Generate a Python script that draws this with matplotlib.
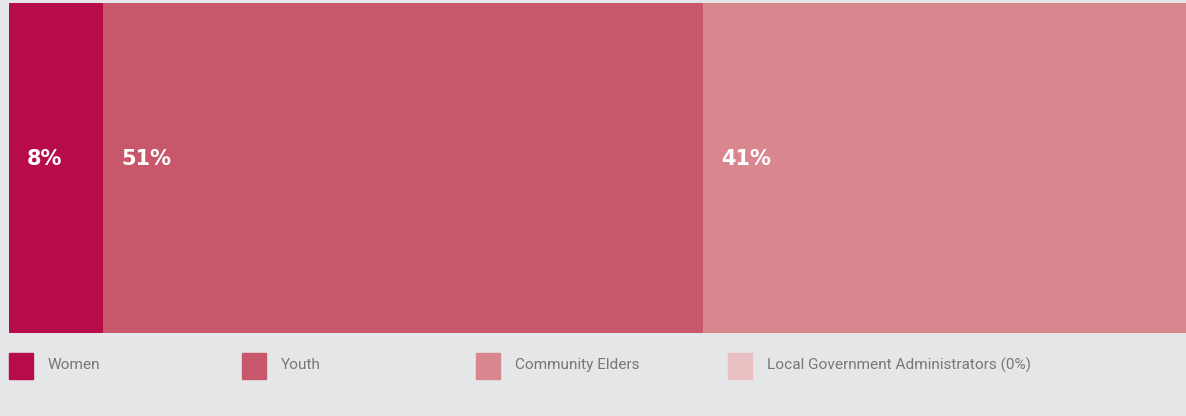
import matplotlib.pyplot as plt
from matplotlib.patches import Rectangle

# stakeholder share, single stacked bar
groups = ["Women", "Youth", "Community Elders", "Local Government Administrators"]
shares = [8, 51, 41, 0]
legend_labels = ["Women", "Youth", "Community Elders", "Local Government Administrators (0%)"]
colors = ["#b80c4a", "#c8576b", "#d9878f", "#ebc0c3"]

bg = "#e5e6e8"
W, H = 1186, 416

fig = plt.figure(figsize=(W / 100, H / 100), dpi=100, facecolor=bg)
ax = fig.add_axes([9 / W, 1 - 333 / H, 1 - 9 / W, 330 / H])
ax.set_facecolor(bg)

left = 0
for name, val, col in zip(groups, shares, colors):
    if val > 0:
        ax.barh(0, val, left=left, height=1, color=col, edgecolor="none")
        # value label, a little above the bar's middle
        ax.annotate(f"{val}%", (left, 0), xytext=(13, 6.5), textcoords="offset points",
                    color="white", fontsize=15, fontweight="bold",
                    family="DejaVu Sans", ha="left", va="center")
    left += val

ax.set_xlim(0, sum(shares))
ax.set_ylim(-0.5, 0.5)
ax.axis("off")

# legend row along the bottom
legend_x = [9, 242, 476, 728]
for x, lab, col in zip(legend_x, legend_labels, colors):
    fig.patches.append(Rectangle((x / W, 1 - 379 / H), 24 / W, 26 / H,
                                 transform=fig.transFigure, color=col))
    fig.text((x + 39) / W, 1 - 365 / H, lab, color="#77777a", fontsize=11.1,
             family="Roboto", ha="left", va="center")

fig.savefig("out.png", dpi=100, facecolor=bg)
